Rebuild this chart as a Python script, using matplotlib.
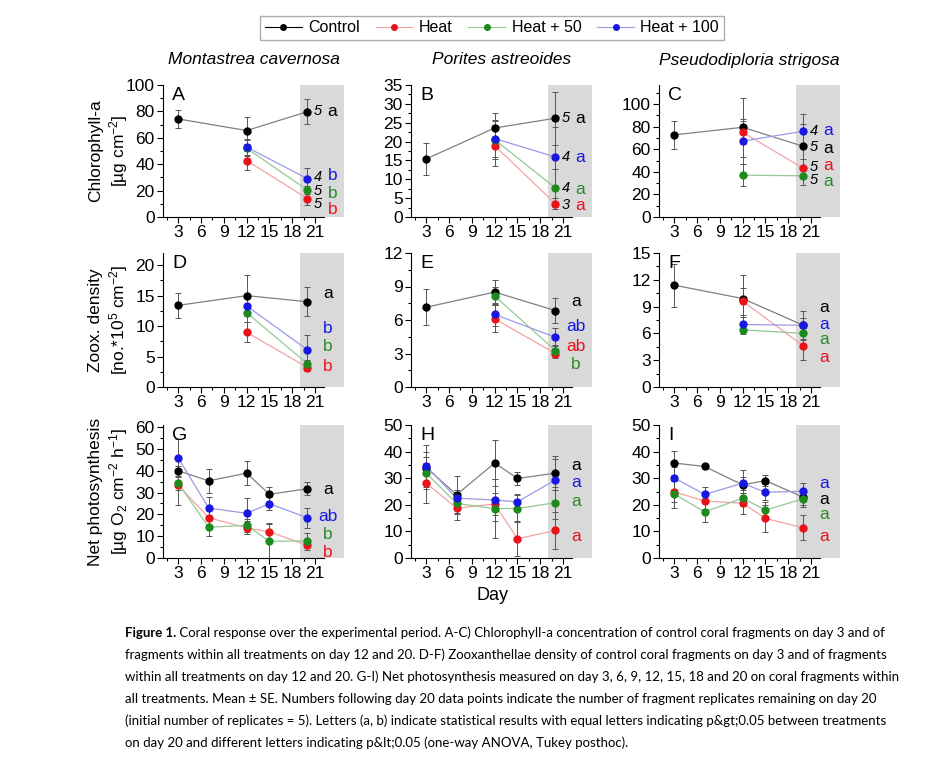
import matplotlib.pyplot as plt
from matplotlib.lines import Line2D
from matplotlib.text import Annotation
import numpy as np

plt.rcParams['font.family'] = ['Liberation Sans', 'DejaVu Sans']
plt.rcParams['mathtext.fontset'] = 'custom'
plt.rcParams['mathtext.rm'] = 'Liberation Sans'
plt.rcParams['mathtext.it'] = 'Liberation Sans:italic'

# treatments, in the order control, heat, heat + 50, heat + 100
treatments = ['Control', 'Heat', 'Heat + 50', 'Heat + 100']
species = ['Montastrea cavernosa', 'Porites astreoides', 'Pseudodiploria strigosa']
panel_names = ['A', 'B', 'C', 'D', 'E', 'F', 'G', 'H', 'I']

# days sampled
days_ctrl = [3, 12, 20]
days_trt = [12, 20]
days_ps = [3, 7, 12, 15, 20]

# chlorophyll-a (A-C), mean and SE
a_mean = [[74.3, 65.5, 79.8], [42.8, 13.9], [52.0, 20.4], [52.9, 29.0]]
a_se = [[6.7, 10.0, 9.7], [7.0, 5.0], [6.0, 3.0], [6.0, 8.0]]
b_mean = [[15.4, 23.6, 26.2], [18.9, 3.5], [20.5, 7.7], [20.8, 15.9]]
b_se = [[4.3, 4.0, 7.0], [5.5, 1.5], [5.0, 5.0], [5.0, 8.0]]
c_mean = [[72.8, 79.5, 62.6], [75.1, 43.0], [37.1, 36.5], [67.3, 76.0]]
c_se = [[12.7, 26.0, 20.0], [10.0, 8.0], [10.0, 8.0], [20.0, 15.0]]

# zooxanthellae density (D-F)
d_mean = [[13.4, 15.0, 14.0], [9.0, 3.2], [12.2, 3.8], [13.3, 6.1]]
d_se = [[2.0, 3.4, 2.4], [1.6, 0.5], [1.5, 0.6], [1.5, 2.4]]
e_mean = [[7.14, 8.5, 6.84], [6.1, 3.0], [8.15, 3.25], [6.5, 4.45]]
e_se = [[1.6, 1.1, 1.1], [1.2, 0.4], [0.8, 0.5], [1.0, 0.8]]
f_mean = [[11.4, 9.9, 6.9], [9.6, 4.6], [6.4, 6.0], [7.0, 6.9]]
f_se = [[2.4, 2.6, 1.6], [1.5, 1.6], [0.5, 0.6], [0.8, 0.8]]

# net photosynthesis (G-I)
g_mean = [[40.0, 35.4, 38.9, 29.2, 31.8], [33.4, 18.5, 13.8, 12.0, 5.8],
          [34.3, 14.1, 15.0, 7.6, 7.9], [45.9, 22.9, 20.5, 24.9, 18.4]]
g_se = [[6.0, 5.5, 5.5, 3.5, 3.0], [9.0, 4.0, 3.0, 4.0, 2.0],
        [3.0, 4.0, 3.0, 8.0, 3.5], [8.5, 5.0, 7.0, 3.0, 4.5]]
h_mean = [[34.0, 23.8, 35.7, 29.9, 31.9], [28.2, 18.7, 20.3, 7.2, 10.4],
          [31.9, 20.5, 18.6, 18.6, 20.8], [34.6, 22.5, 21.8, 21.1, 29.4]]
h_se = [[6.0, 7.0, 8.6, 2.5, 6.5], [7.5, 4.4, 4.0, 6.6, 7.0],
        [6.0, 4.0, 11.0, 5.0, 6.0], [8.0, 3.0, 8.0, 3.0, 8.0]]
i_mean = [[35.7, 34.4, 27.5, 29.1, 22.8], [24.9, 21.4, 20.6, 14.9, 11.3],
          [24.1, 17.3, 22.5, 18.0, 22.3], [30.1, 23.9, 28.1, 24.7, 25.1]]
i_se = [[4.5, 1.0, 3.0, 2.0, 3.0], [4.0, 3.0, 4.0, 5.0, 4.7],
        [5.4, 3.6, 3.0, 3.0, 3.0], [4.0, 2.7, 5.0, 3.0, 3.0]]

# replicates left on day 20 (A-C) and post hoc letters (all panels)
a_n = ['5', '5', '5', '4']
b_n = ['5', '3', '4', '4']
c_n = ['5', '5', '5', '4']
a_let = ['a', 'b', 'b', 'b']
b_let = ['a', 'a', 'a', 'a']
c_let = ['a', 'a', 'a', 'a']
d_let = ['a', 'b', 'b', 'b']
e_let = ['a', 'ab', 'b', 'ab']
f_let = ['a', 'a', 'a', 'a']
g_let = ['a', 'b', 'b', 'ab']
h_let = ['a', 'a', 'a', 'a']
i_let = ['a', 'a', 'a', 'a']

means = [a_mean, b_mean, c_mean, d_mean, e_mean, f_mean, g_mean, h_mean, i_mean]
ses = [a_se, b_se, c_se, d_se, e_se, f_se, g_se, h_se, i_se]
lets = [a_let, b_let, c_let, d_let, e_let, f_let, g_let, h_let, i_let]
reps = [a_n, b_n, c_n]

marker_cols = ['black', '#e8141a', '#1e8a1e', '#1818e0']
line_cols = ['#808080', '#f4a3a3', '#93c993', '#9a9ae6']
text_cols = ['black', '#e8141a', '#2a8a2a', '#1818e0']

ylims = [100, 35, 117, 22, 12, 15, 61, 50, 50]
ymaj = [20, 5, 20, 5, 3, 3, 10, 10, 10]
ylabels = ['Chlorophyll-a\n[µg cm$^{-2}$]',
           'Zoox. density\n[no.*10$^{5}$ cm$^{-2}$]',
           'Net photosynthesis\n[µg O$_{2}$ cm$^{-2}$ h$^{-1}$]']

# y positions of the day 20 annotations (numbers, letters)
num_y = [[80, 9.5, 19.5, 30], [26.2, 3.3, 7.6, 15.9], [62, 44.4, 32.8, 76.6]]
let_y = [[80, 5.8, 18, 31.8], [26.2, 3.0, 7.4, 15.9], [60.5, 46, 31.7, 76.6],
         [15.4, 3.3, 6.6, 9.6], [7.7, 3.6, 2.0, 5.4], [8.9, 3.3, 5.3, 7.0],
         [31.5, 2.6, 11.0, 18.9], [34.6, 8.2, 21.3, 28.2], [22.0, 8.2, 16.3, 28.0]]

W, H = 930, 766
fig = plt.figure(figsize=(W / 100, H / 100), dpi=100)

col_left = [163, 411, 659]
col_w = 181
rows = [(85, 217), (253, 387), (425, 558)]

for k in range(9):
    r, c = divmod(k, 3)
    top, bot = rows[r]
    ax = fig.add_axes([col_left[c] / W, 1 - bot / H, col_w / W, (bot - top) / H])
    ax.axvspan(19, 25, color='#d9d9d9', lw=0, zorder=0)

    for t in range(4):
        if r < 2:
            x = days_ctrl if t == 0 else days_trt
        else:
            x = days_ps
        y = means[k][t]
        ax.errorbar(x, y, yerr=ses[k][t], fmt='none', ecolor='#555555',
                    elinewidth=0.7, capsize=2, capthick=0.7, zorder=2)
        ax.plot(x, y, '-', color=line_cols[t], lw=0.9, zorder=3)
        ax.plot(x, y, 'o', color=marker_cols[t], ms=5, zorder=4)

        if r == 0:
            ax.text(21.4, num_y[k][t], reps[k][t], style='italic', fontsize=10.5,
                    ha='center', va='center', zorder=5)
            ax.text(23.3, let_y[k][t], lets[k][t], color=text_cols[t],
                    fontsize=12.5, ha='center', va='center', zorder=5)
        else:
            ax.text(22.7, let_y[k][t], lets[k][t], color=text_cols[t],
                    fontsize=12.5, ha='center', va='center', zorder=5)

    ax.set_xlim(1, 24.8)
    ax.set_ylim(0, ylims[k])
    ax.set_xticks(range(3, 22, 3))
    ax.set_xticks(np.arange(1.5, 22, 3), minor=True)
    ax.set_yticks(np.arange(0, ylims[k] + 0.01, ymaj[k]))
    ax.set_yticks(np.arange(0, ylims[k] + 0.01, ymaj[k] / 2), minor=True)
    ax.spines['top'].set_visible(False)
    ax.spines['right'].set_visible(False)
    ax.spines['bottom'].set_bounds(1, 22.2)
    ax.tick_params(labelsize=12.5, length=4, width=0.8, pad=2)
    ax.tick_params(which='minor', length=2, width=0.8)
    ax.text(0.05, 0.985, panel_names[k], transform=ax.transAxes, fontsize=14,
            ha='left', va='top')

    if r == 0:
        fig.text((col_left[c] + col_w / 2) / W, 1 - 60 / H, species[c],
                 style='italic', fontsize=12.5, ha='center', va='center')
    if c == 0:
        fig.text(109 / W, 1 - (top + bot) / 2 / H, ylabels[r], rotation=90,
                 fontsize=12.5, ha='center', va='center', multialignment='center')

fig.text(492 / W, 1 - 595 / H, 'Day', fontsize=13, ha='center', va='center')

handles = [Line2D([], [], color=line_cols[t] if t else 'black', lw=0.8,
                  marker='o', ms=4, mfc=marker_cols[t], mec=marker_cols[t])
           for t in range(4)]
fig.legend(handles, treatments, loc='center', bbox_to_anchor=(492 / W, 1 - 28 / H),
           ncol=4, fontsize=11.5, frameon=True, fancybox=False, edgecolor='#999999',
           handlelength=2.3, columnspacing=1.0, handletextpad=0.4, borderpad=0.3)

# caption
caption = [
    'Coral response over the experimental period. A-C) Chlorophyll-a concentration of control coral fragments on day 3 and of',
    'fragments within all treatments on day 12 and 20. D-F) Zooxanthellae density of control coral fragments on day 3 and of fragments',
    'within all treatments on day 12 and 20. G-I) Net photosynthesis measured on day 3, 6, 9, 12, 15, 18 and 20 on coral fragments within',
    'all treatments. Mean ± SE. Numbers following day 20 data points indicate the number of fragment replicates remaining on day 20',
    '(initial number of replicates = 5). Letters (a, b) indicate statistical results with equal letters indicating p&gt;0.05 between treatments',
    'on day 20 and different letters indicating p&lt;0.05 (one-way ANOVA, Tukey posthoc).',
]
cap_font = ['Lato', 'DejaVu Sans']
cap_size = 9.5
y0 = 637
t0 = fig.text(125 / W, 1 - y0 / H, 'Figure 1.', family=cap_font, weight='bold',
              fontsize=cap_size, ha='left', va='baseline')
fig.add_artist(Annotation(' ' + caption[0], xy=(1, 0), xycoords=t0, family=cap_font,
                          fontsize=cap_size, ha='left', va='bottom'))
for i, line in enumerate(caption[1:], start=1):
    fig.text(125 / W, 1 - (y0 + 22 * i) / H, line, family=cap_font,
             fontsize=cap_size, ha='left', va='baseline')

fig.savefig('out.png', dpi=100)
